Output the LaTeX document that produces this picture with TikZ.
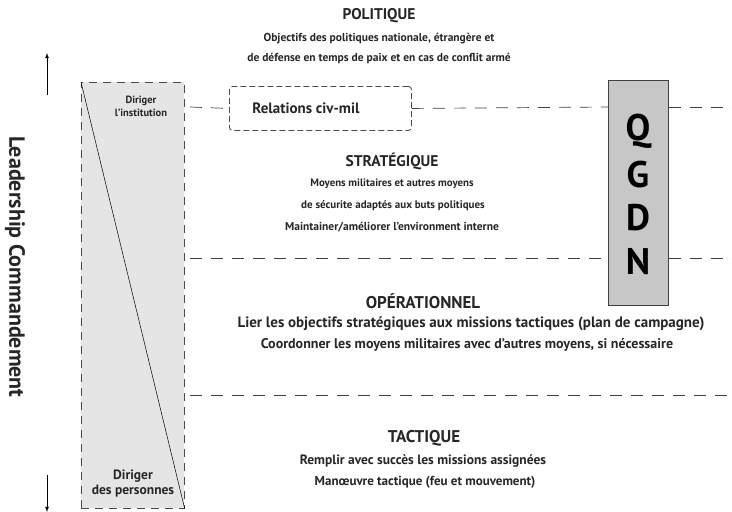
\documentclass[tikz,border=0pt]{standalone}
\usepackage{fontspec}
\setmainfont{PT Sans}
\begin{document}
\begin{tikzpicture}[x=1pt,y=-1pt,
  txt/.style={font=\bfseries\fontsize{11.5}{13}\selectfont, text=black!85, inner sep=0pt, anchor=center},
  txtb/.style={font=\bfseries\fontsize{13.5}{15}\selectfont, text=black!85, inner sep=0pt, anchor=center},
  head/.style={font=\bfseries\fontsize{15.5}{17}\selectfont, text=black!85, inner sep=0pt, anchor=center},
  headb/.style={font=\bfseries\fontsize{17}{19}\selectfont, text=black!85, inner sep=0pt, anchor=center},
  dline/.style={dash pattern=on 12pt off 9pt, line width=0.7pt, draw=black!75},
  qletter/.style={font=\bfseries\fontsize{37}{37}\selectfont, inner sep=0pt, anchor=center}]
\useasboundingbox (0,0) rectangle (732,512);
% left gray column
\node[draw=black!70, fill=black!10, dash pattern=on 8pt off 6pt, line width=0.7pt, minimum width=103pt, minimum height=426pt, inner sep=0pt, anchor=north west] (col) at (81,82) {};
\draw[line width=0.5pt] (col.north west) -- (col.south east);
\node[txt, font=\bfseries\fontsize{10.5}{13}\selectfont, align=center] (inst) at (141,106) {Diriger\\l'institution};
\node[txtb, align=center] (pers) at (133,484) {Diriger\\des personnes};
% arrows
\coordinate (upA) at (47,95);
\coordinate (upB) at (47,53);
\coordinate (dnA) at (47,475);
\coordinate (dnB) at (47,512);
\draw[-latex, line width=0.8pt] (upA) -- (upB);
\draw[-latex, line width=0.8pt] (dnA) -- (dnB);
\node[rotate=-90, font=\fontsize{22}{24}\selectfont\bfseries, text=black!85, inner sep=0pt] (lead) at (15,267) {Leadership Commandement};
% QGDN
\node[draw=black!75, fill=black!22, line width=0.7pt, minimum width=60pt, minimum height=225pt, inner sep=0pt, anchor=north west] (qgdn) at (608,80) {};
\node[qletter] (q) at (638,131) {Q};
\node[qletter] (g) at (638,175) {G};
\node[qletter] (d) at (638,218) {D};
\node[qletter] (n) at (638,262) {N};
% relations box
\node[draw=black!70, dash pattern=on 6pt off 3pt, line width=0.9pt, rounded corners=3pt, minimum width=182pt, minimum height=44pt, inner sep=0pt, anchor=north west] (rel) at (229,86) {};
\node[font=\bfseries\fontsize{15}{17}\selectfont, text=black!85, inner sep=0pt] (reltxt) at (306,108) {Relations civ-mil};
% dashed lines
\coordinate (l1a) at (190,107);
\coordinate (l1b) at (732,107);
\coordinate (l2a) at (190,258);
\coordinate (l2b) at (732,258);
\coordinate (l3a) at (190,395);
\coordinate (l3b) at (732,395);
\draw[dline] (l1a) -- (rel.west);
\draw[dline] (rel.east) -- (qgdn.west |- l1a);
\draw[dline] (qgdn.east |- l1a) -- (l1b);
\draw[dline] (l2a) -- (qgdn.west |- l2a);
\draw[dline] (qgdn.east |- l2a) -- (l2b);
\draw[dline] (l3a) -- (l3b);
% texts
\node[head] (pol) at (379,16) {POLITIQUE};
\node[txt] (pol1) at (379,39) {Objectifs des politiques nationale, étrangère et};
\node[txt] (pol2) at (379,59) {de défense en temps de paix et en cas de conflit armé};
\node[head] (str) at (392,161) {STRATÉGIQUE};
\node[txt, font=\bfseries\fontsize{10.8}{13}\selectfont] (str1) at (392,184) {Moyens militaires et autres moyens};
\node[txt, font=\bfseries\fontsize{11}{13}\selectfont] (str2) at (393,206) {de sécurite adaptés aux buts politiques};
\node[txt] (str3) at (392,227) {Maintainer/améliorer l'environment interne};
\node[headb] (op) at (423,301) {OPÉRATIONNEL};
\node[txt, font=\bfseries\fontsize{15}{17}\selectfont] (op1) at (471,324) {Lier les objectifs stratégiques aux missions tactiques (plan de campagne)};
\node[txt, font=\bfseries\fontsize{14}{16}\selectfont] (op2) at (467,345) {Coordonner les moyens militaires avec d'autres moyens, si nécessaire};
\node[headb] (tac) at (424,438) {TACTIQUE};
\node[txtb] (tac1) at (423,461) {Remplir avec succès les missions assignées};
\node[txtb, font=\bfseries\fontsize{13}{15}\selectfont] (tac2) at (425,482) {Manœuvre tactique (feu et mouvement)};
\end{tikzpicture}
\end{document}
